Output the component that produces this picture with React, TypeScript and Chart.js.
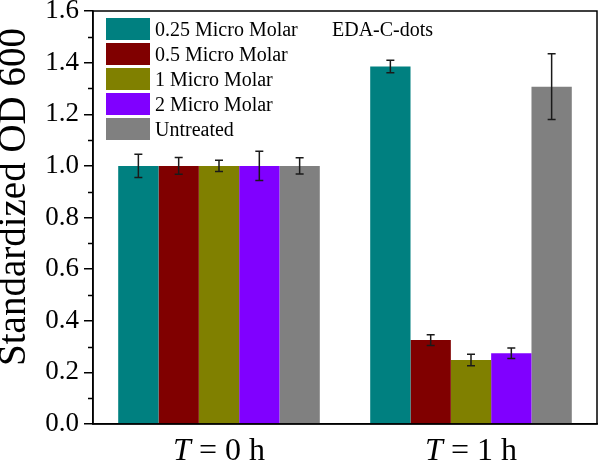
import React, { useEffect, useRef } from "react";
import { Chart, registerables } from "chart.js";

Chart.register(...registerables);

const categories = ["T = 0 h", "T = 1 h"];
const seriesNames = ["0.25 Micro Molar", "0.5 Micro Molar", "1 Micro Molar", "2 Micro Molar", "Untreated"];
const seriesColors = ["#008080", "#800000", "#808000", "#8000FF", "#808080"];

const values025 = [1.0, 1.385];
const values05 = [1.0, 0.325];
const values1 = [1.0, 0.248];
const values2 = [1.0, 0.274];
const valuesUntreated = [1.0, 1.307];

const errors025 = [0.045, 0.024];
const errors05 = [0.032, 0.021];
const errors1 = [0.022, 0.022];
const errors2 = [0.057, 0.02];
const errorsUntreated = [0.031, 0.127];

const yTicks = [0, 0.2, 0.4, 0.6, 0.8, 1.0, 1.2, 1.4, 1.6];
const yMinorTicks = [0.1, 0.3, 0.5, 0.7, 0.9, 1.1, 1.3, 1.5];
const yTitle = "Standardized OD 600";
const annotation = "EDA-C-dots";

const allValues = [values025, values05, values1, values2, valuesUntreated];
const allErrors = [errors025, errors05, errors1, errors2, errorsUntreated];

const SERIF = "'Times New Roman', 'Liberation Serif', serif";

const decorPlugin = {
  id: "decor",
  afterDatasetsDraw(chart: any) {
    const ctx = chart.ctx;
    const y = chart.scales.y;
    ctx.save();
    ctx.strokeStyle = "#1a1a1a";
    ctx.lineWidth = 1.5;
    chart.data.datasets.forEach((ds: any, di: number) => {
      const meta = chart.getDatasetMeta(di);
      meta.data.forEach((el: any, i: number) => {
        const v = ds.data[i];
        const e = allErrors[di][i];
        const yt = y.getPixelForValue(v + e);
        const yb = y.getPixelForValue(v - e);
        const x = el.x;
        ctx.beginPath();
        ctx.moveTo(x, yt);
        ctx.lineTo(x, yb);
        ctx.moveTo(x - 4, yt);
        ctx.lineTo(x + 4, yt);
        ctx.moveTo(x - 4, yb);
        ctx.lineTo(x + 4, yb);
        ctx.stroke();
      });
    });
    ctx.restore();
  },
  afterDraw(chart: any) {
    const ctx = chart.ctx;
    const area = chart.chartArea;
    const y = chart.scales.y;
    const x = chart.scales.x;
    ctx.save();
    // frame
    ctx.strokeStyle = "#000";
    ctx.lineWidth = 1.5;
    ctx.strokeRect(area.left, area.top, area.right - area.left, area.bottom - area.top);
    // minor ticks
    ctx.beginPath();
    yMinorTicks.forEach((v) => {
      const py = Math.round(y.getPixelForValue(v)) + 0.5;
      ctx.moveTo(area.left - 5, py);
      ctx.lineTo(area.left, py);
    });
    ctx.stroke();
    // legend
    ctx.font = `20px ${SERIF}`;
    ctx.textAlign = "left";
    ctx.textBaseline = "alphabetic";
    seriesNames.forEach((name, i) => {
      ctx.fillStyle = seriesColors[i];
      ctx.fillRect(106, 18 + 25 * i, 44, 22);
      ctx.fillStyle = "#000";
      ctx.fillText(name, 155, 36 + 25 * i);
    });
    ctx.fillText(annotation, 332, 36);
    // y title
    ctx.save();
    ctx.translate(25, 197);
    ctx.rotate(-Math.PI / 2);
    ctx.font = `39px ${SERIF}`;
    ctx.textAlign = "center";
    ctx.fillText(yTitle, 0, 0);
    ctx.restore();
    // x labels with italic T
    categories.forEach((label, i) => {
      const cx = x.getPixelForValue(i);
      const first = label.slice(0, 1);
      const rest = label.slice(1);
      ctx.font = `italic 32px ${SERIF}`;
      const w1 = ctx.measureText(first).width;
      ctx.font = `32px ${SERIF}`;
      const w2 = ctx.measureText(rest).width;
      const start = cx - (w1 + w2) / 2;
      ctx.textAlign = "left";
      ctx.font = `italic 32px ${SERIF}`;
      ctx.fillText(first, start, 460);
      ctx.font = `32px ${SERIF}`;
      ctx.fillText(rest, start + w1, 460);
    });
    ctx.restore();
  },
};

export default function App() {
  const ref = useRef<HTMLCanvasElement | null>(null);
  useEffect(() => {
    document.body.style.margin = "0";
    if (!ref.current) return;
    const chart = new Chart(ref.current, {
      type: "bar",
      data: {
        labels: categories,
        datasets: seriesNames.map((name, i) => ({
          label: name,
          data: allValues[i],
          backgroundColor: seriesColors[i],
          borderWidth: 0,
          categoryPercentage: 0.8,
          barPercentage: 1.0,
        })),
      },
      options: {
        animation: false,
        responsive: false,
        maintainAspectRatio: false,
        devicePixelRatio: 1,
        layout: { padding: { top: 11, right: 3, left: 0, bottom: 0 } },
        plugins: {
          legend: { display: false },
          tooltip: { enabled: false },
        },
        scales: {
          x: {
            grid: { display: false },
            border: { display: true, color: "#000", width: 1.5 },
            ticks: { display: false },
            afterFit: (s: any) => {
              s.height = 39;
              s.paddingLeft = 0;
              s.paddingRight = 0;
            },
          },
          y: {
            min: 0,
            max: 1.6,
            afterBuildTicks: (s: any) => {
              s.ticks = yTicks.map((v) => ({ value: v }));
            },
            ticks: {
              padding: 5,
              color: "#000",
              font: { family: SERIF, size: 27 },
              callback: (v: any) => Number(v).toFixed(1),
            },
            grid: {
              display: true,
              drawOnChartArea: false,
              drawTicks: true,
              tickLength: 9,
              color: "#000",
              lineWidth: 1.5,
            },
            border: { display: true, color: "#000", width: 1.5 },
            afterFit: (s: any) => {
              s.width = 93;
              s.paddingTop = 0;
              s.paddingBottom = 0;
            },
          },
        },
      },
      plugins: [decorPlugin],
    });
    return () => chart.destroy();
  }, []);
  return <canvas ref={ref} width={600} height={463} style={{ display: "block" }} />;
}
